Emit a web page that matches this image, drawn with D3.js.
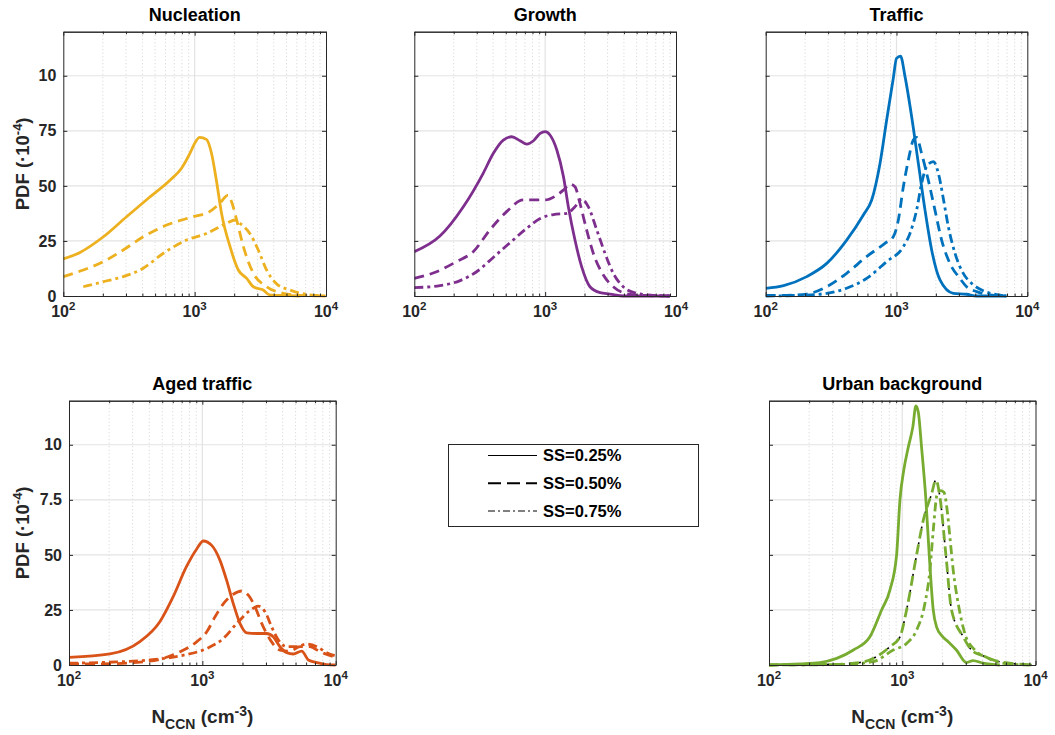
<!DOCTYPE html>
<html>
<head>
<meta charset="utf-8">
<script src="https://cdn.jsdelivr.net/npm/d3@7"></script>
<style>
  body { margin: 0; background: #fff; }
  svg { display: block; font-family: "Liberation Sans", Arial, sans-serif; font-weight: bold; }
</style>
</head>
<body>
<svg id="fig" width="1055" height="735"></svg>
<script>
// PDF values in units of 1e-4; pairs are [N_CCN, PDF]
var nucleation025 = [[100,1.68],[134,1.98],[202,2.69],[303,3.6],[457,4.5],[649,5.26],[795,5.8],[920,6.47],[1000,6.93],[1093,7.2],[1229,7.11],[1345,6.47],[1463,5.26],[1603,3.75],[1860,2.24],[2150,1.18],[2490,0.8],[2800,0.42],[3330,0.27],[3720,0.05],[5000,0.02],[6300,0]];
var nucleation050 = [[100,0.88],[142,1.18],[202,1.56],[286,2.09],[406,2.69],[612,3.22],[977,3.6],[1300,3.83],[1549,4.2],[1800,4.58],[1910,4.28],[2090,3.45],[2350,2.24],[2800,1.03],[3540,0.42],[4730,0.12],[6300,0.03],[10000,0]];
var nucleation075 = [[142,0.42],[202,0.65],[286,0.88],[406,1.26],[578,1.94],[869,2.54],[1230,2.84],[1755,3.3],[2030,3.45],[2213,3.3],[2630,2.84],[3050,2.09],[3530,1.18],[4180,0.57],[5320,0.27],[7550,0.05],[10000,0]];

var growth025 = [[100,2.01],[157,2.72],[237,4.05],[336,5.57],[401,6.47],[479,7.08],[555,7.23],[643,7.05],[724,6.9],[815,7.05],[916,7.38],[1000,7.46],[1092,7.3],[1228,6.63],[1380,5.42],[1504,4.05],[1690,2.54],[1900,1.33],[2200,0.42],[2630,0.15],[3130,0.09],[3950,0],[9000,0]];
var growth050 = [[100,0.8],[148,1.1],[210,1.56],[282,2.01],[378,3.0],[508,3.83],[682,4.36],[1000,4.36],[1230,4.58],[1380,4.81],[1550,5.08],[1690,4.96],[1846,4.2],[2075,3.0],[2333,1.94],[2785,0.95],[3315,0.42],[3950,0.15],[5300,0.03],[9000,0]];
var growth075 = [[100,0.38],[157,0.47],[224,0.7],[299,1.1],[401,1.75],[539,2.42],[723,3.07],[916,3.52],[1158,3.7],[1463,3.75],[1690,4.05],[1900,4.39],[2140,4.05],[2480,3.0],[2866,1.94],[3315,1.03],[3950,0.42],[5000,0.12],[6710,0.03],[9000,0]];

var traffic025 = [[100,0.35],[137,0.47],[206,0.88],[293,1.48],[416,2.54],[558,3.68],[646,4.36],[748,6.02],[841,7.99],[945,9.88],[1000,10.79],[1073,10.89],[1162,9.96],[1306,8.14],[1469,6.02],[1652,3.9],[1857,2.09],[2150,0.73],[2718,0.12],[3436,0.08],[4100,0],[6920,0]];
var traffic050 = [[100,0.03],[145,0.03],[206,0.09],[293,0.42],[416,1.03],[591,1.79],[816,2.39],[945,2.69],[1033,3.45],[1128,4.96],[1232,6.17],[1344,7.08],[1425,7.2],[1556,6.47],[1750,5.26],[1968,3.9],[2213,2.54],[2560,1.48],[3050,0.8],[3436,0.42],[4100,0.2],[5190,0.05],[6920,0]];
var traffic075 = [[100,0],[183,0.03],[293,0.12],[416,0.35],[591,0.8],[841,1.56],[1128,2.24],[1267,2.84],[1425,3.9],[1556,5.11],[1700,5.87],[1910,6.1],[2090,5.57],[2290,4.36],[2490,3.15],[2800,1.94],[3240,1.03],[3760,0.57],[4480,0.27],[5500,0.09],[6920,0]];

var aged025 = [[100,0.35],[203,0.5],[340,1.06],[480,1.96],[603,3.09],[758,4.45],[910,5.28],[1017,5.63],[1175,5.43],[1356,4.75],[1520,3.85],[1706,2.79],[1914,1.89],[2150,1.46],[2550,1.43],[3030,1.43],[3400,1.28],[3820,0.83],[4290,0.56],[4810,0.5],[5560,0.63],[6240,0.23],[7240,0.11],[8570,0.02],[10000,0]];
var aged050 = [[100,0.05],[171,0.05],[304,0.11],[480,0.26],[680,0.6],[910,1.06],[1080,1.51],[1245,2.19],[1440,2.79],[1706,3.21],[1972,3.36],[2213,3.17],[2483,2.64],[2786,1.89],[3240,1.13],[3820,0.68],[4560,0.63],[5400,0.83],[6400,0.83],[7630,0.6],[10000,0.35]];
var aged075 = [[100,0.08],[228,0.14],[405,0.23],[724,0.45],[1080,0.75],[1440,1.21],[1815,1.89],[2290,2.49],[2630,2.67],[2960,2.41],[3310,1.73],[3720,1.13],[4290,0.83],[5110,0.83],[6040,0.95],[7240,0.83],[8570,0.56],[10000,0.41]];

var urban025 = [[100,0],[171,0.05],[241,0.11],[322,0.3],[430,0.68],[572,1.28],[700,2.5],[808,3.4],[907,5.0],[961,7.5],[1030,8.9],[1109,9.88],[1200,10.8],[1266,11.76],[1318,11.5],[1400,9.8],[1505,7.5],[1594,5.0],[1708,2.5],[1809,1.73],[2000,1.3],[2213,1.06],[2550,0.68],[3037,0.11],[3400,0.2],[4050,0.08],[5400,0]];
var urban050 = [[100,0],[304,0.03],[480,0.11],[642,0.38],[808,0.83],[961,1.28],[1078,2.5],[1281,5.0],[1437,6.56],[1660,7.77],[1789,8.4],[1917,7.62],[2126,5.0],[2344,2.5],[2868,1.28],[3311,0.68],[4050,0.41],[4800,0.23],[6400,0.08],[10000,0]];
var urban075 = [[100,0],[340,0.02],[603,0.15],[856,0.68],[1078,0.98],[1281,1.58],[1479,2.79],[1613,4.3],[1708,6.1],[1830,7.77],[1939,7.92],[2054,7.84],[2175,7.01],[2278,5.81],[2413,4.3],[2630,2.79],[2951,1.43],[3508,0.68],[4290,0.35],[5400,0.11],[7200,0.02],[10000,0]];

var titles = ["Nucleation", "Growth", "Traffic", "Aged traffic", "Urban background"];
var colors = ["#EDB120", "#7E2F8E", "#0072BD", "#D95319", "#77AC30"];
var legendLabels = ["SS=0.25%", "SS=0.50%", "SS=0.75%"];
var yTicks = [0, 2.5, 5, 7.5, 10];
var yLabelsTop = ["0", "25", "50", "75", "10"];
var yLabelsBottom = ["0", "25", "50", "7.5", "10"];
var xTicks = [1e2, 1e3, 1e4];
var xTickExp = ["2", "3", "4"];

var seriesData = [
  [nucleation025, nucleation050, nucleation075],
  [growth025, growth050, growth075],
  [traffic025, traffic050, traffic075],
  [aged025, aged050, aged075],
  [urban025, urban050, urban075]
];

// axes boxes [left, top, right, bottom]
var boxes = [
  [63.3, 31.7, 326, 296],
  [414.3, 31.7, 676, 296],
  [765.7, 31.7, 1027.3, 296],
  [69, 400.7, 335.7, 665],
  [769, 400.7, 1035.5, 665]
];

var dashes = [null, "10,6", "9,4,3,4"];
var axisColor = "#262626";

var svg = d3.select("#fig");

var minorTicks = [];
[100, 1000].forEach(function(dec) {
  for (var k = 2; k <= 9; k++) minorTicks.push(dec * k);
});

function drawPanel(i) {
  var b = boxes[i];
  var x = d3.scaleLog().domain([1e2, 1e4]).range([b[0], b[2]]);
  var y = d3.scaleLinear().domain([0, 12]).range([b[3], b[1]]);
  var g = svg.append("g");

  // grid
  g.selectAll(".minor").data(minorTicks).enter().append("line")
    .attr("x1", function(d) { return x(d); }).attr("x2", function(d) { return x(d); })
    .attr("y1", b[1]).attr("y2", b[3])
    .attr("stroke", "#c8c8c8").attr("stroke-width", 0.8).attr("stroke-dasharray", "1,2.5");
  g.selectAll(".hgrid").data(yTicks.slice(1)).enter().append("line")
    .attr("x1", b[0]).attr("x2", b[2])
    .attr("y1", function(d) { return y(d); }).attr("y2", function(d) { return y(d); })
    .attr("stroke", "#e3e3e3").attr("stroke-width", 1.2);
  g.append("line")
    .attr("x1", x(1e3)).attr("x2", x(1e3)).attr("y1", b[1]).attr("y2", b[3])
    .attr("stroke", "#e3e3e3").attr("stroke-width", 1.2);

  // curves
  var line = d3.line()
    .x(function(d) { return x(d[0]); })
    .y(function(d) { return y(d[1]); })
    .curve(d3.curveMonotoneX);

  var clipId = "clip" + i;
  svg.append("clipPath").attr("id", clipId).append("rect")
    .attr("x", b[0]).attr("y", b[1]).attr("width", b[2] - b[0]).attr("height", b[3] - b[1] + 2);

  var cg = g.append("g").attr("clip-path", "url(#" + clipId + ")");
  // the urban background dashed curve shows thin black bits in its gaps
  if (i == 4) {
    cg.append("path").attr("d", line(seriesData[i][1]))
      .attr("fill", "none").attr("stroke", "#000").attr("stroke-width", 1.6)
      .attr("stroke-dasharray", "2,14").attr("stroke-dashoffset", -10);
  }
  seriesData[i].forEach(function(s, k) {
    cg.append("path").attr("d", line(s))
      .attr("fill", "none")
      .attr("stroke", colors[i])
      .attr("stroke-width", 2.8)
      .attr("stroke-linejoin", "round")
      .attr("stroke-dasharray", dashes[k]);
  });

  // axes (ticks inward)
  var left = i == 0 || i == 3;
  var yLab = i < 3 ? yLabelsTop : yLabelsBottom;
  var ya = g.append("g").attr("transform", "translate(" + b[0] + ",0)")
    .call(d3.axisLeft(y).tickValues(yTicks).tickSizeInner(-4).tickSizeOuter(0).tickPadding(7)
      .tickFormat(function(d, j) { return left ? yLab[j] : ""; }));
  var yb = g.append("g").attr("transform", "translate(" + b[2] + ",0)")
    .call(d3.axisRight(y).tickValues(yTicks).tickSizeInner(-4).tickSizeOuter(0).tickFormat(""));
  var xa = g.append("g").attr("transform", "translate(0," + b[3] + ")")
    .call(d3.axisBottom(x).tickValues(xTicks).tickSizeInner(-4).tickSizeOuter(0).tickFormat(""));
  var xm = g.append("g").attr("transform", "translate(0," + b[3] + ")")
    .call(d3.axisBottom(x).tickValues(minorTicks).tickSizeInner(-2.5).tickSizeOuter(0).tickFormat(""));
  var xt = g.append("g").attr("transform", "translate(0," + b[1] + ")")
    .call(d3.axisTop(x).tickValues(xTicks).tickSizeInner(-4).tickSizeOuter(0).tickFormat(""));
  var xtm = g.append("g").attr("transform", "translate(0," + b[1] + ")")
    .call(d3.axisTop(x).tickValues(minorTicks).tickSizeInner(-2.5).tickSizeOuter(0).tickFormat(""));
  [ya, yb, xa, xm, xt, xtm].forEach(function(a) {
    a.selectAll("path, line").attr("stroke", axisColor);
    a.select(".domain").attr("stroke-width", 1);
    a.selectAll("text").attr("fill", axisColor).attr("font-size", 16)
      .attr("font-family", "Liberation Sans, Arial, sans-serif").attr("font-weight", "bold");
  });

  // x tick labels with exponents
  xTicks.forEach(function(t, j) {
    var tx = g.append("text")
      .attr("x", x(t)).attr("y", b[3] + 21)
      .attr("text-anchor", "middle").attr("fill", axisColor).attr("font-size", 16);
    tx.append("tspan").text("10");
    tx.append("tspan").attr("dy", -7).attr("font-size", 11.5).text(xTickExp[j]);
  });

  // title
  g.append("text")
    .attr("x", (b[0] + b[2]) / 2).attr("y", b[1] - 11)
    .attr("text-anchor", "middle").attr("fill", "#000").attr("font-size", 18)
    .text(titles[i]);

  if (left) {
    var yl = g.append("text")
      .attr("transform", "translate(29," + ((b[1] + b[3]) / 2) + ") rotate(-90)")
      .attr("text-anchor", "middle").attr("fill", axisColor).attr("font-size", 18.5);
    yl.append("tspan").text("PDF (\u00b710");
    yl.append("tspan").attr("dy", -7).attr("font-size", 13).text("-4");
    yl.append("tspan").attr("dy", 7).text(")");
  }

  if (i >= 3) {
    var xl = g.append("text")
      .attr("x", (b[0] + b[2]) / 2).attr("y", b[3] + 58)
      .attr("text-anchor", "middle").attr("fill", axisColor).attr("font-size", 19);
    xl.append("tspan").text("N");
    xl.append("tspan").attr("dy", 6).attr("font-size", 14).text("CCN");
    xl.append("tspan").attr("dy", -6).text(" (cm");
    xl.append("tspan").attr("dy", -7).attr("font-size", 14).text("-3");
    xl.append("tspan").attr("dy", 7).text(")");
  }
}

for (var i = 0; i < titles.length; i++) drawPanel(i);

// legend
var legend = svg.append("g");
legend.append("rect")
  .attr("x", 448.5).attr("y", 444.5).attr("width", 250).attr("height", 82)
  .attr("fill", "#fff").attr("stroke", axisColor).attr("stroke-width", 1);
var legendY = d3.scalePoint().domain(legendLabels).range([455.5, 511]);
var legendDash = [null, "13,6", "7,3,2,3"];
var legendWidth = [1, 2, 1];
legendLabels.forEach(function(lab, k) {
  var ly = legendY(lab);
  legend.append("line")
    .attr("x1", 488).attr("x2", 537).attr("y1", ly).attr("y2", ly)
    .attr("stroke", "#000").attr("stroke-width", legendWidth[k])
    .attr("stroke-dasharray", legendDash[k]);
  legend.append("text")
    .attr("x", 543).attr("y", ly).attr("dy", "0.36em")
    .attr("fill", "#000").attr("font-size", 16.5)
    .text(lab);
});
</script>
</body>
</html>
